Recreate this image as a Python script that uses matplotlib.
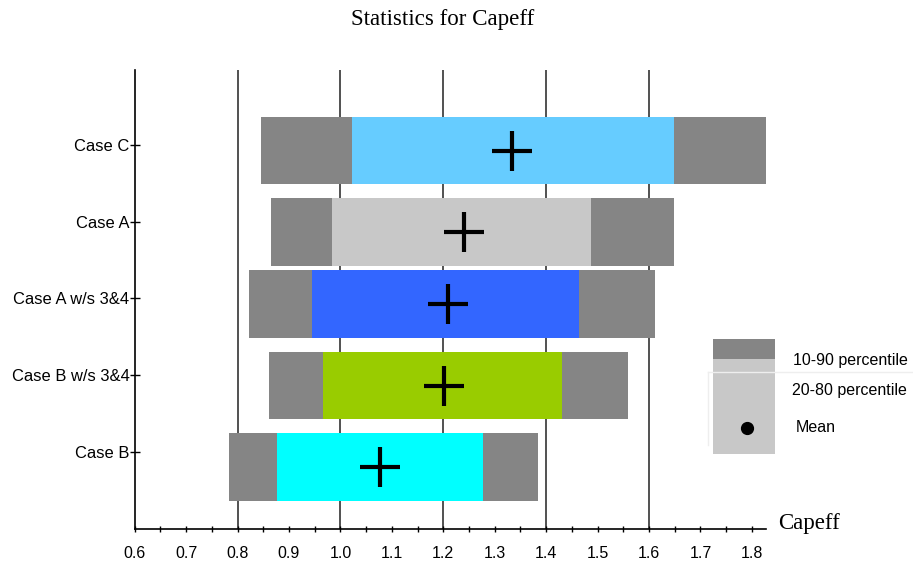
import matplotlib
matplotlib.use("Agg")
import matplotlib.pyplot as plt
from matplotlib.patches import Rectangle
from matplotlib.lines import Line2D
import numpy as np

# Percentile summary for Capeff by case (top to bottom)
cases = ["Case C", "Case A", "Case A w/s 3&4", "Case B w/s 3&4", "Case B"]
p10 = [0.846, 0.865, 0.822, 0.861, 0.783]
p20 = [1.023, 0.984, 0.945, 0.966, 0.877]
p80 = [1.648, 1.487, 1.464, 1.431, 1.277]
p90 = [1.827, 1.648, 1.612, 1.559, 1.384]
means = [1.333, 1.241, 1.210, 1.202, 1.077]
inner_colors = ["#66CCFF", "#C8C8C8", "#3366FF", "#99CC00", "#00FFFF"]
outer_color = "#858585"

x_ticks = np.round(np.arange(0.6, 1.8001, 0.05), 2)
x_labels = [f"{v:.1f}" if abs(v * 10 - round(v * 10)) < 1e-6 else "" for v in x_ticks]
grid_x = [0.8, 1.0, 1.2, 1.4, 1.6]

W, H = 913, 564
fig = plt.figure(figsize=(W / 100, H / 100), dpi=100)

def fx(px):
    return px / W

def fy(py):
    return 1 - py / H

ax_l, ax_r, ax_t, ax_b = 134.7, 765.7, 70.0, 529.3
ax = fig.add_axes([fx(ax_l), fy(ax_b), fx(ax_r - ax_l), (ax_b - ax_t) / H])

sans = ["Liberation Sans", "DejaVu Sans"]
serif = ["Liberation Serif", "DejaVu Serif"]

# Row layout: bar rows and their label ticks sit at slightly different offsets
bar_pos = np.array([0.0, 1.03, 1.94, 2.973, 4.0])
tick_pos = np.arange(len(cases)) * 0.97 - 0.07
bar_h = 0.85

for gx in grid_x:
    ax.axvline(gx, color="#222222", lw=1.1, zorder=1)

ax.barh(bar_pos, np.array(p90) - np.array(p10), left=p10, height=bar_h,
        color=outer_color, zorder=2)
ax.barh(bar_pos, np.array(p80) - np.array(p20), left=p20, height=bar_h,
        color=inner_colors, zorder=3)
ax.plot(means, bar_pos, linestyle="none", marker="+", markersize=29,
        markeredgewidth=3.0, color="black", zorder=4)

ax.set_xlim(0.6, 1.827)
ax.set_ylim(4.789, -1.018)

ax.set_xticks(x_ticks)
ax.set_xticklabels(x_labels, fontfamily=sans, fontsize=11.5)
ax.set_yticks(tick_pos)
ax.set_yticklabels(cases, fontfamily=sans, fontsize=11.9)
ax.tick_params(axis="x", direction="inout", length=4.5, width=1.0, pad=10)
ax.tick_params(axis="y", direction="inout", length=6.5, width=1.0, pad=0.5)

for s in ["top", "right"]:
    ax.spines[s].set_visible(False)
for s in ["left", "bottom"]:
    ax.spines[s].set_linewidth(1.2)
    ax.spines[s].set_color("black")

fig.text(fx(443), fy(20), "Statistics for Capeff", ha="center", va="center",
         fontfamily=serif, fontsize=16.6)
fig.text(fx(777.7), fy(523), "Capeff", ha="left", va="center",
         fontfamily=serif, fontsize=16.5)

# Legend swatch
fig.add_artist(Rectangle((fx(712.7), fy(454)), fx(775 - 712.7), (454 - 359) / H,
                         transform=fig.transFigure, color="#C8C8C8", lw=0))
fig.add_artist(Rectangle((fx(712.7), fy(359)), fx(775 - 712.7), (359 - 339.3) / H,
                         transform=fig.transFigure, color=outer_color, lw=0))
fig.add_artist(Line2D([fx(708), fx(913)], [fy(371.7), fy(371.7)],
                      transform=fig.transFigure, color="#EEEEEE", lw=1))
fig.add_artist(Line2D([fx(708), fx(708)], [fy(371.7), fy(445)],
                      transform=fig.transFigure, color="#EEEEEE", lw=1))
fig.add_artist(Line2D([fx(746.7)], [fy(428)], transform=fig.transFigure,
                      marker="o", markersize=8.5, color="black", linestyle="none"))
fig.text(fx(793), fy(361), "10-90 percentile", ha="left", va="center",
         fontfamily=sans, fontsize=11.5)
fig.text(fx(792), fy(390), "20-80 percentile", ha="left", va="center",
         fontfamily=sans, fontsize=11.5)
fig.text(fx(796), fy(428), "Mean", ha="left", va="center",
         fontfamily=sans, fontsize=11.5)

fig.savefig("out.png", dpi=100)
